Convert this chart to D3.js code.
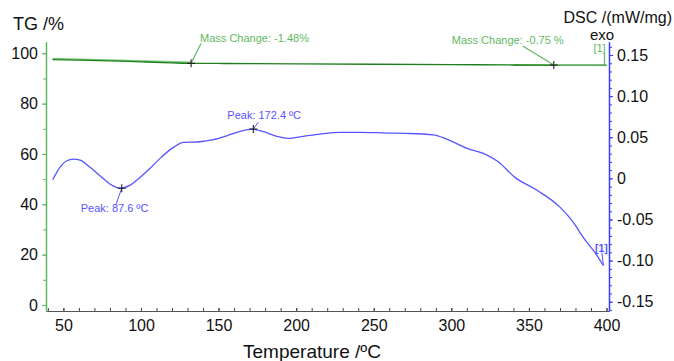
<!DOCTYPE html>
<html>
<head>
<meta charset="utf-8">
<script src="https://cdn.jsdelivr.net/npm/d3@7"></script>
<style>
  body { margin: 0; background: #fff; }
  svg { font-family: "Liberation Sans", Arial, sans-serif; }
</style>
</head>
<body>
<div id="chart"></div>
<script>
// TG curve (mass %)
var tgTemp = [43, 60, 80, 100, 120, 132.3, 150, 200, 250, 300, 340, 366, 380, 400]
var tgMass = [97.5, 97.3, 97.0, 96.6, 96.2, 96.0, 95.95, 95.8, 95.65, 95.5, 95.35, 95.3, 95.28, 95.25]

// DSC curve (mW/mg)
var dscTemp = [43.2, 45.7, 52.2, 56.4, 60.8, 67.2, 73.6, 80, 86.5, 93, 99.4, 105.9, 112.3, 120.9, 127.3, 138, 146.6, 155.3, 163.9, 171.4, 178.9, 187.5, 195, 204.6, 215.4, 228.3, 241.2, 258.4, 271, 288.4, 297, 310, 320.6, 330, 341, 355, 370, 378.6, 385, 393.7, 398]
var dscValue = [-0.0017, 0.0073, 0.0214, 0.0235, 0.0223, 0.0134, 0.0032, -0.0069, -0.012, -0.0082, 0.0012, 0.0122, 0.0243, 0.0377, 0.0438, 0.0445, 0.047, 0.0518, 0.0572, 0.06, 0.0567, 0.0511, 0.0487, 0.0511, 0.0539, 0.056, 0.056, 0.0551, 0.0547, 0.053, 0.0478, 0.0365, 0.0304, 0.0205, 0.0012, -0.0142, -0.035, -0.0535, -0.0718, -0.0933, -0.106]

var xTicks = [50, 100, 150, 200, 250, 300, 350, 400]
var tgTicks = [0, 20, 40, 60, 80, 100]
var dscTicks = [-0.15, -0.10, -0.05, 0, 0.05, 0.10, 0.15]

var massChanges = [
  { t: 132.3, v: 96.0, label: 'Mass Change: -1.48%' },
  { t: 366, v: 95.3, label: 'Mass Change: -0.75 %' }
]
var peaks = [
  { t: 87.6, v: -0.012, label: 'Peak: 87.6 ºC' },
  { t: 172.4, v: 0.06, label: 'Peak: 172.4 ºC' }
]

var W = 674, H = 361
var margin = { top: 41.7, bottom: 50, left: 46, right: 65 }

var green = '#62b862', darkGreen = '#1f7f1f', blue = '#3b3bff', lineBlue = '#5555ff'

var x = d3.scaleLinear().domain([38.8, 401.6]).range([margin.left, W - margin.right])
var yTG = d3.scaleLinear().domain([-2.4, 104.6]).range([H - margin.bottom, margin.top])
var yDSC = d3.scaleLinear().domain([-0.1613, 0.1662]).range([H - margin.bottom, margin.top])

var svg = d3.select('#chart').append('svg')
  .attr('width', W)
  .attr('height', H)

var bottom = H - margin.bottom

// x axis
svg.append('g')
  .attr('transform', 'translate(0,' + bottom + ')')
  .call(d3.axisBottom(x).tickValues(d3.range(40, 401, 10)).tickSize(-3).tickFormat(''))
  .call(function(g) { g.selectAll('line').attr('stroke', '#444') })
  .call(function(g) { g.select('.domain').remove() })
var xAxis = svg.append('g')
  .attr('transform', 'translate(0,' + bottom + ')')
  .call(d3.axisBottom(x).tickValues(xTicks).tickSize(-3).tickPadding(8.6).tickSizeOuter(0))
xAxis.select('.domain').attr('stroke', '#555')
xAxis.selectAll('line').attr('stroke', '#444')
xAxis.selectAll('text').attr('font-size', 16).attr('fill', '#111').attr('font-family', null)

// left TG axis
svg.append('g')
  .attr('transform', 'translate(' + margin.left + ',0)')
  .call(d3.axisLeft(yTG).tickValues(d3.range(0, 101, 10)).tickSize(3).tickFormat(''))
  .call(function(g) { g.selectAll('line').attr('stroke', green) })
  .call(function(g) { g.select('.domain').remove() })
var tgAxis = svg.append('g')
  .attr('transform', 'translate(' + margin.left + ',0)')
  .call(d3.axisLeft(yTG).tickValues(tgTicks).tickSize(4).tickPadding(4).tickSizeOuter(0))
tgAxis.select('.domain').attr('stroke', green).attr('stroke-width', 1.5)
tgAxis.selectAll('line').attr('stroke', green)
tgAxis.selectAll('text').attr('font-size', 16).attr('fill', '#111').attr('font-family', null)

// right DSC axis
var xr = W - margin.right
svg.append('g')
  .attr('transform', 'translate(' + xr + ',0)')
  .call(d3.axisRight(yDSC).tickValues(d3.range(-16, 17).map(function(i) { return i / 100 })).tickSize(3).tickFormat(''))
  .call(function(g) { g.selectAll('line').attr('stroke', blue) })
  .call(function(g) { g.select('.domain').remove() })
var dscAxis = svg.append('g')
  .attr('transform', 'translate(' + xr + ',0)')
  .call(d3.axisRight(yDSC).tickValues(dscTicks).tickSize(4).tickPadding(4).tickSizeOuter(0)
    .tickFormat(function(d) { return d === 0 ? '0' : d3.format('.2f')(d).replace('−', '-') }))
dscAxis.select('.domain').attr('stroke', blue).attr('stroke-width', 1.5)
dscAxis.selectAll('line').attr('stroke', blue)
dscAxis.selectAll('text').attr('font-size', 16).attr('fill', '#111').attr('font-family', null)

// titles
svg.append('text').attr('x', 13).attr('y', 30).attr('font-size', 18).attr('fill', '#111').text('TG /%')
svg.append('text').attr('x', 672).attr('y', 23).attr('text-anchor', 'end').attr('font-size', 16).attr('fill', '#111').text('DSC /(mW/mg)')
svg.append('text').attr('x', 602).attr('y', 40).attr('text-anchor', 'middle').attr('font-size', 15).attr('fill', '#111').text('exo')
svg.append('text').attr('x', 312).attr('y', 358).attr('text-anchor', 'middle').attr('font-size', 19).attr('fill', '#111').text('Temperature /ºC')

// curves
var tgPts = tgTemp.map(function(t, i) { return [t, tgMass[i]] })
var dscPts = dscTemp.map(function(t, i) { return [t, dscValue[i]] })

var tgLine = d3.line().x(function(d) { return x(d[0]) }).y(function(d) { return yTG(d[1]) }).curve(d3.curveMonotoneX)
var dscLine = d3.line().x(function(d) { return x(d[0]) }).y(function(d) { return yDSC(d[1]) }).curve(d3.curveMonotoneX)

// mass change guide lines (lighter green)
var mc0 = massChanges[0], mc1 = massChanges[1], last = tgPts[tgPts.length - 1]
svg.append('path')
  .attr('fill', 'none').attr('stroke', '#7cc87c').attr('stroke-width', 1.6)
  .attr('d', 'M' + x(tgPts[0][0]) + ',' + (yTG(tgPts[0][1]) - 1) + 'L' + x(mc0.t) + ',' + (yTG(mc0.v) - 1))
svg.append('path')
  .attr('fill', 'none').attr('stroke', '#7cc87c').attr('stroke-width', 1.6)
  .attr('d', 'M' + x(340) + ',' + yTG(mc1.v) + 'L' + x(mc1.t) + ',' + yTG(mc1.v))

svg.append('path').datum(tgPts)
  .attr('fill', 'none').attr('stroke', darkGreen).attr('stroke-width', 1.3)
  .attr('d', tgLine)

svg.append('path').datum(dscPts)
  .attr('fill', 'none').attr('stroke', lineBlue).attr('stroke-width', 1.3)
  .attr('d', dscLine)

// TG end marker [1]
var ex = x(last[0]) - 2, ey = yTG(last[1])
svg.append('path').attr('fill', 'none').attr('stroke', green).attr('stroke-width', 1.2)
  .attr('d', 'M' + x(mc1.t) + ',' + ey + 'H' + ex + 'V' + (ey - 12))
svg.append('text').attr('x', ex - 5).attr('y', ey - 13).attr('text-anchor', 'middle')
  .attr('font-size', 11).attr('fill', green).text('[1]')

// DSC end marker [1]
var dl = dscPts[dscPts.length - 1]
var dx = x(dl[0]), dy = yDSC(dl[1])
svg.append('path').attr('fill', 'none').attr('stroke', lineBlue).attr('stroke-width', 1)
  .attr('d', 'M' + (dx - 1.5) + ',' + (dy - 13) + 'L' + dx + ',' + dy)
svg.append('text').attr('x', dx - 2).attr('y', dy - 14).attr('text-anchor', 'middle')
  .attr('font-size', 10.5).attr('font-weight', 'bold').attr('fill', lineBlue).text('[1]')

function cross(cx, cy) {
  svg.append('path').attr('stroke', '#222').attr('stroke-width', 1.1)
    .attr('d', 'M' + (cx - 4) + ',' + cy + 'H' + (cx + 4) + 'M' + cx + ',' + (cy - 4) + 'V' + (cy + 4))
}

// mass change labels
var mcOffsets = [{ lx: 10, ly: -20, tx: 9, ty: -21 }, { lx: -31, ly: -19, tx: -102, ty: -21 }]
massChanges.forEach(function(m, i) {
  var cx = x(m.t), cy = yTG(m.v), o = mcOffsets[i]
  svg.append('line').attr('x1', cx).attr('y1', cy).attr('x2', cx + o.lx).attr('y2', cy + o.ly)
    .attr('stroke', green).attr('stroke-width', 1.2)
  svg.append('text').attr('x', cx + o.tx).attr('y', cy + o.ty)
    .attr('font-size', 11).attr('fill', green).text(m.label)
  cross(cx, cy)
})

// peak labels
var pkOffsets = [{ lx: -6, ly: 17, tx: -41, ty: 24 }, { lx: 5, ly: -7, tx: -26, ty: -10 }]
peaks.forEach(function(p, i) {
  var cx = x(p.t), cy = yDSC(p.v), o = pkOffsets[i]
  svg.append('line').attr('x1', cx).attr('y1', cy).attr('x2', cx + o.lx).attr('y2', cy + o.ly)
    .attr('stroke', lineBlue).attr('stroke-width', 1)
  svg.append('text').attr('x', cx + o.tx).attr('y', cy + o.ty)
    .attr('font-size', 11).attr('fill', lineBlue).text(p.label)
  cross(cx, cy)
})
</script>
</body>
</html>
